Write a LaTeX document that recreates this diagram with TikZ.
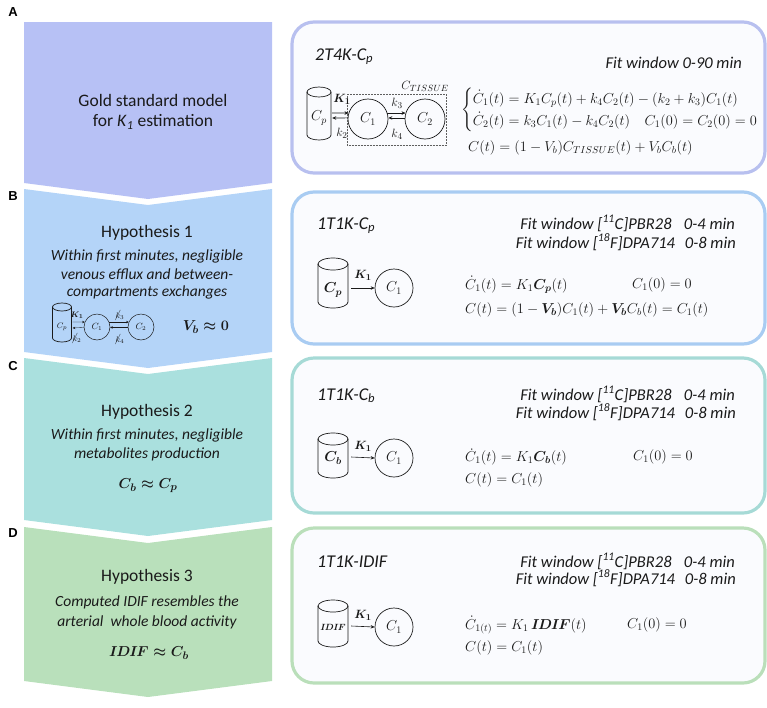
\documentclass[tikz,border=0pt]{standalone}
\usepackage{amsmath,amssymb}
\usepackage{cancel}
\usepackage{fontspec}
\setmainfont{Carlito}
\newfontfamily\labfont{Liberation Sans}
\usetikzlibrary{arrows.meta,calc}
\definecolor{chevA}{HTML}{B7C1F5}
\definecolor{chevB}{HTML}{B4D4F8}
\definecolor{chevC}{HTML}{AAE0DE}
\definecolor{chevD}{HTML}{B9E0BB}
\definecolor{brdA}{HTML}{B8C0EF}
\definecolor{brdB}{HTML}{A9CCF2}
\definecolor{brdC}{HTML}{A6DAD6}
\definecolor{brdD}{HTML}{BADFBA}
\definecolor{boxfill}{HTML}{FAFBFE}
\definecolor{txt}{HTML}{1A1A1A}
\newcommand\cylshape[5]{%
  \draw[draw=txt,line width=0.7pt] (#1-#4,#2+#5) -- (#1-#4,#3-#5) arc[start angle=180,end angle=0,x radius=#4,y radius=#5] -- (#1+#4,#2+#5);
  \draw[draw=txt,line width=0.7pt] (#1,#2+#5) ellipse[x radius=#4,y radius=#5];}
\newcommand\idif{I\mkern-1.5mu D\mkern-1mu I\mkern-1.5mu F}
\tikzset{
 lab/.style={font=\labfont\bfseries\fontsize{13}{15}\selectfont, text=black},
 hyp/.style={font=\fontsize{17.5}{21}\selectfont, text=txt, inner sep=0},
 hypit/.style={font=\fontsize{15.5}{19}\selectfont\itshape, text=txt, inner sep=0},
 bigmath/.style={font=\fontsize{15}{18}\selectfont, text=txt, inner sep=0},
 box/.style={rounded corners=22pt, line width=3.2pt, fill=boxfill},
 ttl/.style={font=\fontsize{18}{21}\selectfont\itshape, anchor=base west, text=txt, inner sep=0},
 fitw/.style={font=\fontsize{16.5}{20}\selectfont\itshape, anchor=base east, text=txt, inner sep=0},
 eq/.style={font=\fontsize{14.6}{18.5}\selectfont, anchor=west, inner sep=0, text=txt},
 comp/.style={circle, draw=txt, line width=0.7pt, minimum size=40pt, inner sep=0, font=\fontsize{14}{16}\selectfont, text=txt},
 scomp/.style={circle, draw=txt, line width=0.5pt, minimum size=26pt, inner sep=0, font=\fontsize{9}{10}\selectfont, text=txt},
 arr/.style={-{Stealth[length=4pt,width=3.5pt]}, line width=0.6pt, draw=txt},
 sarr/.style={-{Stealth[length=2.5pt,width=2.4pt]}, line width=0.35pt, draw=txt},
 klab/.style={font=\fontsize{13}{15}\selectfont, inner sep=0, text=txt},
 sklab/.style={font=\fontsize{8.5}{10}\selectfont, inner sep=0, text=txt},
 cyltxt/.style={inner sep=0, font=\fontsize{14}{16}\selectfont, text=txt},
}
\begin{document}
\begin{tikzpicture}[x=1pt,y=-1pt]
\useasboundingbox (0,0) rectangle (767,707);
% chevrons
\fill[chevA] (24,22) -- (272,22) -- (272,183) -- (148,199) -- (24,183) -- cycle;
\fill[chevB] (24,189) -- (148,205) -- (272,189) -- (272,352) -- (148,368) -- (24,352) -- cycle;
\fill[chevC] (24,358) -- (148,374) -- (272,358) -- (272,520) -- (148,536) -- (24,520) -- cycle;
\fill[chevD] (24,527) -- (148,543) -- (272,527) -- (272,681) -- (148,697) -- (24,681) -- cycle;
\node[lab] (labA) at (13,12) {A};
\node[lab] (labB) at (13,196) {B};
\node[lab] (labC) at (13,366) {C};
\node[lab] (labD) at (13,533) {D};
% left texts
\node[hyp] (gA1) at (153,100) {Gold standard model};
\node[hyp] (gA2) at (153,122) {for \textit{K}\textsubscript{\textit{1}} estimation};
\node[hyp] (hB) at (147,233) {Hypothesis 1};
\node[hypit] (hB1) at (147,256) {Within first minutes, negligible};
\node[hypit] (hB2) at (147,274) {venous efflux and between-};
\node[hypit] (hB3) at (147,292) {compartments exchanges};
\node[hyp] (hC) at (147,412) {Hypothesis 2};
\node[hypit] (hC1) at (147,435) {Within first minutes, negligible};
\node[hypit] (hC2) at (147,454) {metabolites production};
\node[bigmath] (mC) at (148,486) {$\boldsymbol{C_b\approx C_p}$};
\node[hyp] (hD) at (147,577) {Hypothesis 3};
\node[hypit] (hD1) at (147,602) {Computed IDIF resembles the};
\node[hypit] (hD2) at (147,622) {arterial\ \ whole blood activity};
\node[bigmath] (mD) at (149,653) {$\boldsymbol{\idif\approx C_b}$};
% small diagram in B
\cylshape{62}{303}{342}{9.5}{4}
\node[inner sep=0, minimum width=19pt, font=\fontsize{8.5}{10}\selectfont, text=txt] (scp) at (62,327) {$C_p$};
\node[scomp] (sc1) at (97,327) {$C_1$};
\node[scomp] (sc2) at (141,327) {$C_2$};
\draw[sarr] ($(scp.east)+(1,-5)$) -- (sc1.158);
\draw[sarr] (sc1.182) -- ($(scp.east)+(1,1)$);
\draw[sarr] (sc1.22) -- (sc2.158);
\draw[sarr] (sc2.182) -- (sc1.358);
\node[sklab] (sk1) at (77,315) {$\boldsymbol{K_1}$};
\node[sklab] (sk2) at (77,338) {$\cancel{k}_2$};
\node[sklab] (sk3) at (120,315) {$\cancel{k}_3$};
\node[sklab] (sk4) at (120,339) {$\cancel{k}_4$};
\node[bigmath] (vb) at (206,327) {$\boldsymbol{V_b\approx 0}$};
% boxes
\draw[box, draw=brdA] (292,22) rectangle (765,173);
\draw[box, draw=brdB] (292,192) rectangle (765,344);
\draw[box, draw=brdC] (292,358) rectangle (765,513);
\draw[box, draw=brdD] (292,528) rectangle (765,683);
% box A
\node[ttl] (tA) at (315,60) {2T4K-C\textsubscript{p}};
\node[fitw] (fA) at (742,68) {Fit window 0-90 min};
\cylshape{319}{87}{140}{12}{5}
\node[cyltxt, minimum width=24pt] (cpA) at (319,118) {$C_p$};
\node[comp] (c1A) at (368,119) {$C_1$};
\node[comp] (c2A) at (425,119) {$C_2$};
\draw[densely dotted, draw=txt!70, line width=0.5pt] (347,94) rectangle (446,145);
\draw[arr] ($(cpA.east)+(1,-5)$) -- (c1A.163);
\draw[arr] (c1A.177) -- ($(cpA.east)+(1,0)$);
\draw[arr] (c1A.17) -- (c2A.163);
\draw[arr] (c2A.177) -- (c1A.3);
\node[klab] (kA1) at (342,99) {$\boldsymbol{K_1}$};
\node[klab] (kA2) at (342,133) {$k_2$};
\node[klab] (kA3) at (397,103) {$k_3$};
\node[klab] (kA4) at (397,134) {$k_4$};
\node[klab] (ctA) at (425,86) {$C_{TISSUE}$};
\node[eq] (eA) at (461,110) {$\begin{cases}\dot C_1(t) = K_1C_p(t) + k_4C_2(t) - (k_2+k_3)C_1(t)\\ \dot C_2(t) = k_3C_1(t) - k_4C_2(t)\quad C_1(0)=C_2(0)=0\end{cases}$};
\node[eq] (eA3) at (468,148) {$C(t) = (1-V_b)C_{TISSUE}(t) + V_bC_b(t)$};
% box B
\node[ttl] (tB) at (317,229) {1T1K-C\textsubscript{p}};
\node[fitw] (fB1) at (735,229) {Fit window [\textsuperscript{11}C]PBR28\hspace{0.75em}0-4 min};
\node[fitw] (fB2) at (736,248) {Fit window [\textsuperscript{18}F]DPA714\hspace{0.6em}0-8 min};
\cylshape{333}{258}{308}{15}{6}
\node[cyltxt, minimum width=30pt] (cpB) at (333,290) {$\boldsymbol{C_p}$};
\node[comp, minimum size=38pt] (c1B) at (394,288) {$C_1$};
\draw[arr] ($(cpB.east)+(3,-2)$) -- (c1B.west);
\node[klab] (kB1) at (363,275) {$\boldsymbol{K_1}$};
\node[eq] (eB1) at (465,285) {$\dot C_1(t) = K_1\boldsymbol{C_p}(t)$};
\node[eq] (eB2) at (632,285) {$C_1(0) = 0$};
\node[eq] (eB3) at (465,310) {$C(t) = (1-\boldsymbol{V_b})C_1(t) + \boldsymbol{V_b}C_b(t) = C_1(t)$};
% box C
\node[ttl] (tC) at (317,400) {1T1K-C\textsubscript{b}};
\node[fitw] (fC1) at (735,400) {Fit window [\textsuperscript{11}C]PBR28\hspace{0.75em}0-4 min};
\node[fitw] (fC2) at (736,418) {Fit window [\textsuperscript{18}F]DPA714\hspace{0.6em}0-8 min};
\cylshape{333}{433}{478}{15}{6}
\node[cyltxt, minimum width=30pt] (cbC) at (333,458) {$\boldsymbol{C_b}$};
\node[comp, minimum size=38pt] (c1C) at (394,458) {$C_1$};
\draw[arr] ($(cbC.east)+(3,-1)$) -- (c1C.west);
\node[klab] (kC1) at (363,446) {$\boldsymbol{K_1}$};
\node[eq] (eC1) at (465,457) {$\dot C_1(t) = K_1\boldsymbol{C_b}(t)$};
\node[eq] (eC2) at (633,457) {$C_1(0) = 0$};
\node[eq] (eC3) at (465,480) {$C(t) = C_1(t)$};
% box D
\node[ttl] (tD) at (317,567) {1T1K-IDIF};
\node[fitw] (fD1) at (735,567) {Fit window [\textsuperscript{11}C]PBR28\hspace{0.75em}0-4 min};
\node[fitw] (fD2) at (736,584) {Fit window [\textsuperscript{18}F]DPA714\hspace{0.6em}0-8 min};
\cylshape{333}{600}{647}{15}{6}
\node[cyltxt, minimum width=30pt, font=\fontsize{9.5}{11}\selectfont] (idD) at (333,627) {$\boldsymbol{\idif}$};
\node[comp, minimum size=38pt] (c1D) at (394,627) {$C_1$};
\draw[arr] ($(idD.east)+(3,-1)$) -- (c1D.west);
\node[klab] (kD1) at (363,615) {$\boldsymbol{K_1}$};
\node[eq] (eD1) at (465,625) {$\dot C_{1(t)} = K_1\,\boldsymbol{\idif}(t)$};
\node[eq] (eD2) at (627,625) {$C_1(0) = 0$};
\node[eq] (eD3) at (465,648) {$C(t) = C_1(t)$};
\end{tikzpicture}
\end{document}
